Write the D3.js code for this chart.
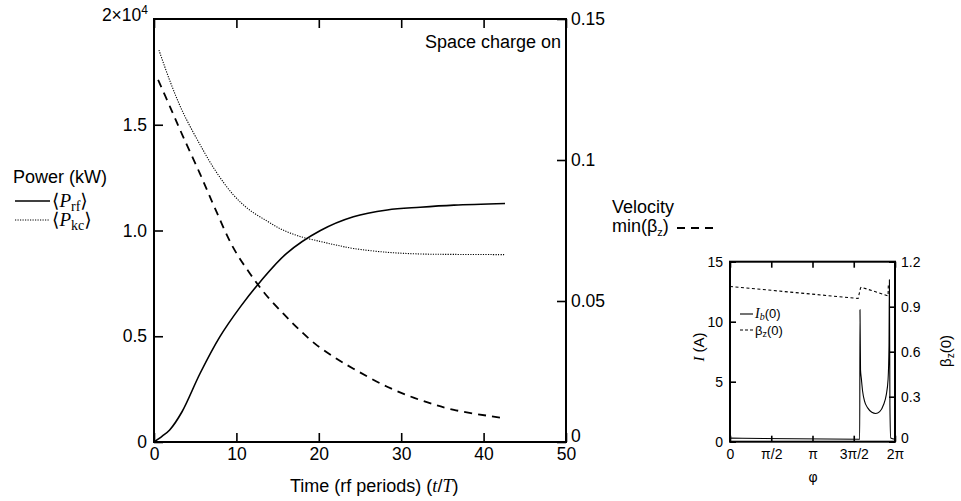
<!DOCTYPE html>
<html><head><meta charset="utf-8">
<script src="https://cdn.jsdelivr.net/npm/d3@7"></script>
<style>
body{margin:0;background:#fff;}
svg{display:block;}
text{font-family:"Liberation Sans",Arial,Helvetica,sans-serif;fill:#000;}
.serif{font-family:"Liberation Serif","DejaVu Serif",serif;}
</style>
</head><body>
<svg id="chart" width="961" height="501"></svg>
<script>
// ---------- Main chart data ----------
const timeRf = [0, 1, 1.9, 3.4, 5.6, 8, 10.5, 12.9, 16.1, 20.2, 24.2, 28.3, 32.3, 36.4, 42.6];
const pRf    = [0, 0.028, 0.057, 0.143, 0.325, 0.498, 0.64, 0.758, 0.892, 1.0, 1.065, 1.097, 1.11, 1.12, 1.128];

const timeKc = [0.6, 2, 3.5, 5.6, 7.5, 9.6, 11.5, 13.7, 15.5, 17.7, 20.2, 22, 24.2, 28.3, 32.3, 36.4, 42.6];
const pKc    = [1.853, 1.70, 1.56, 1.405, 1.28, 1.17, 1.10, 1.045, 1.005, 0.972, 0.948, 0.932, 0.915, 0.897, 0.889, 0.887, 0.886];

const timeBeta = [0.5, 2, 3.5, 5.6, 7.5, 9.6, 11.7, 13.5, 15.7, 17.5, 19.6, 22, 24.2, 28.3, 32.3, 36.4, 42.6];
const minBeta  = [0.1284, 0.1185, 0.1085, 0.0950, 0.0822, 0.0690, 0.0595, 0.0525, 0.0455, 0.0402, 0.0347, 0.0298, 0.0260, 0.0196, 0.0149, 0.0114, 0.0084];

const xTicks = [0, 10, 20, 30, 40, 50];
const leftTicks = [0, 0.5, 1.0, 1.5];
const leftTickLabels = ["0", "0.5", "1.0", "1.5"];
const rightTicks = [0, 0.05, 0.1, 0.15];
const rightTickLabels = ["0", "0.05", "0.1", "0.15"];

// ---------- Inset data ----------
const phiI = [0, 4.94, 4.95, 4.97, 5.0, 5.05, 5.12, 5.25, 5.4, 5.55, 5.7, 5.85, 5.95, 6.02, 6.055, 6.07, 6.09, 6.12, 6.283];
const currentI = [0.3, 0.2, 11.0, 6.0, 5.3, 4.2, 3.4, 2.8, 2.45, 2.35, 2.5, 3.1, 3.9, 5.2, 8.0, 13.5, 3.0, 0.3, 0.2];
const phiB = [0, 4.88, 4.97, 5.0, 5.97, 6.02, 6.03];
const betaZ = [1.035, 0.955, 1.025, 1.03, 0.975, 0.973, 1.05];
const insetXTicks = [0, Math.PI/2, Math.PI, 3*Math.PI/2, 2*Math.PI];
const insetXLabels = ["0", "π/2", "π", "3π/2", "2π"];
const insetLeftTicks = [0, 5, 10, 15];
const insetRightTicks = [0, 0.3, 0.6, 0.9, 1.2];
const insetRightLabels = ["0", "0.3", "0.6", "0.9", "1.2"];

const svg = d3.select("#chart");

// ================= MAIN CHART =================
const L = 154, R = 566, T = 19, B = 442;
const x = d3.scaleLinear().domain([0, 50]).range([L, R]);
const yL = d3.scaleLinear().domain([0, 2]).range([B, T]);
const yR = d3.scaleLinear().domain([0, 0.15]).range([B, T]);
const FS = 17.5;   // tick labels
const TS = 18;     // titles

function styleAxis(g, fs) {
  g.select(".domain").remove();
  g.selectAll(".tick line").attr("stroke", "#000").attr("stroke-width", 1.6);
  g.selectAll(".tick text").attr("font-size", fs).attr("fill", "#000")
    .attr("font-family", "Liberation Sans, Arial, sans-serif");
}

// bottom
const gB = svg.append("g").attr("transform", `translate(0,${B})`)
  .call(d3.axisBottom(x).tickValues(xTicks).tickSize(-9).tickPadding(6).tickFormat(d3.format("d")));
styleAxis(gB, FS);
// top
const gT = svg.append("g").attr("transform", `translate(0,${T})`)
  .call(d3.axisTop(x).tickValues(xTicks).tickSize(-9).tickFormat(""));
styleAxis(gT, FS);
// left
const gL = svg.append("g").attr("transform", `translate(${L},0)`)
  .call(d3.axisLeft(yL).tickValues(leftTicks).tickSize(-9).tickPadding(7)
    .tickFormat((d, i) => leftTickLabels[i]));
styleAxis(gL, FS);
// right
const gR = svg.append("g").attr("transform", `translate(${R},0)`)
  .call(d3.axisRight(yR).tickValues(rightTicks).tickSize(-9).tickPadding(5)
    .tickFormat((d, i) => rightTickLabels[i]));
styleAxis(gR, FS);
gR.selectAll(".tick text").filter(d => d === 0).attr("dy", "-0.05em");

// frame
svg.append("rect").attr("x", L).attr("y", T).attr("width", R - L).attr("height", B - T)
  .attr("fill", "none").attr("stroke", "#000").attr("stroke-width", 2);

// 2x10^4 label
const topLabel = svg.append("text").attr("x", 148).attr("y", 21).attr("text-anchor", "end")
  .attr("font-size", FS);
topLabel.append("tspan").text("2×10");
topLabel.append("tspan").attr("dy", -7).attr("font-size", 12).text("4");

// curves
const curveMain = d3.curveCatmullRom.alpha(0.5);
const lineRf = d3.line().x((d, i) => x(timeRf[i])).y(d => yL(d)).curve(curveMain);
svg.append("path").attr("d", lineRf(pRf)).attr("fill", "none").attr("stroke", "#000").attr("stroke-width", 1.6);

const lineKc = d3.line().x((d, i) => x(timeKc[i])).y(d => yL(d)).curve(curveMain);
svg.append("path").attr("d", lineKc(pKc)).attr("fill", "none").attr("stroke", "#000")
  .attr("stroke-width", 1.1).attr("stroke-dasharray", "1.2,1.3");

const lineB = d3.line().x((d, i) => x(timeBeta[i])).y(d => yR(d)).curve(curveMain);
svg.append("path").attr("d", lineB(minBeta)).attr("fill", "none").attr("stroke", "#000")
  .attr("stroke-width", 1.8).attr("stroke-dasharray", "8,6");

// annotation
svg.append("text").attr("x", 561).attr("y", 48).attr("text-anchor", "end").attr("font-size", TS).text("Space charge on");

// x axis title
const xt = svg.append("text").attr("x", 290).attr("y", 492).attr("font-size", TS);
xt.append("tspan").text("Time (rf periods) (");
xt.append("tspan").attr("class", "serif").attr("font-style", "italic").text("t");
xt.append("tspan").text("/");
xt.append("tspan").attr("class", "serif").attr("font-style", "italic").text("T");
xt.append("tspan").text(")");

// left legend
svg.append("text").attr("x", 13).attr("y", 183).attr("font-size", TS).text("Power (kW)");
svg.append("line").attr("x1", 15).attr("x2", 50).attr("y1", 201).attr("y2", 201)
  .attr("stroke", "#000").attr("stroke-width", 1.6);
svg.append("line").attr("x1", 15).attr("x2", 50).attr("y1", 220).attr("y2", 220)
  .attr("stroke", "#000").attr("stroke-width", 1.1).attr("stroke-dasharray", "1.2,1.3");
function bracketLabel(xp, yp, sub) {
  const t = svg.append("text").attr("x", xp).attr("y", yp).attr("font-size", 19).attr("class", "serif");
  t.append("tspan").text("⟨");
  t.append("tspan").attr("font-style", "italic").text("P");
  t.append("tspan").attr("dy", 4).attr("font-size", 14).text(sub);
  t.append("tspan").attr("dy", -4).text("⟩");
}
bracketLabel(52, 207, "rf");
bracketLabel(52, 226, "kc");

// velocity legend
svg.append("text").attr("x", 612).attr("y", 213).attr("font-size", TS).text("Velocity");
const mv = svg.append("text").attr("x", 612).attr("y", 232).attr("font-size", TS);
mv.append("tspan").text("min(β");
mv.append("tspan").attr("dy", 4).attr("font-size", 11).text("z");
mv.append("tspan").attr("dy", -4).text(")");
svg.append("line").attr("x1", 677).attr("x2", 716).attr("y1", 228).attr("y2", 228)
  .attr("stroke", "#000").attr("stroke-width", 1.8).attr("stroke-dasharray", "8,6");

// ================= INSET =================
const iL = 730, iR = 895, iT = 261.7, iB = 441.7;
const xi = d3.scaleLinear().domain([0, 2 * Math.PI]).range([iL, iR]);
const yi = d3.scaleLinear().domain([0, 15]).range([iB, iT]);
const yb = d3.scaleLinear().domain([0, 1.2]).range([iB, iT]);
const IFS = 14;

const giB = svg.append("g").attr("transform", `translate(0,${iB})`)
  .call(d3.axisBottom(xi).tickValues(insetXTicks).tickSize(-6).tickPadding(7)
    .tickFormat((d, i) => insetXLabels[i]));
styleAxis(giB, IFS);
const giT = svg.append("g").attr("transform", `translate(0,${iT})`)
  .call(d3.axisTop(xi).tickValues(insetXTicks).tickSize(-6).tickFormat(""));
styleAxis(giT, IFS);
const giL = svg.append("g").attr("transform", `translate(${iL},0)`)
  .call(d3.axisLeft(yi).tickValues(insetLeftTicks).tickSize(-6).tickPadding(7).tickFormat(d3.format("d")));
styleAxis(giL, IFS);
const giR = svg.append("g").attr("transform", `translate(${iR},0)`)
  .call(d3.axisRight(yb).tickValues(insetRightTicks).tickSize(-6).tickPadding(6)
    .tickFormat((d, i) => insetRightLabels[i]));
styleAxis(giR, IFS);
giR.selectAll(".tick text").filter(d => d === 0).attr("dy", "0.05em");

svg.append("rect").attr("x", iL).attr("y", iT).attr("width", iR - iL).attr("height", iB - iT)
  .attr("fill", "none").attr("stroke", "#000").attr("stroke-width", 2);

const lineI = d3.line().x((d, i) => xi(phiI[i])).y(d => yi(d)).curve(d3.curveMonotoneX);
svg.append("path").attr("d", lineI(currentI)).attr("fill", "none").attr("stroke", "#000").attr("stroke-width", 1.1);
const lineBz = d3.line().x((d, i) => xi(phiB[i])).y(d => yb(d));
svg.append("path").attr("d", lineBz(betaZ)).attr("fill", "none").attr("stroke", "#000")
  .attr("stroke-width", 1.1).attr("stroke-dasharray", "3,2.5");

// inset legend
svg.append("line").attr("x1", 740).attr("x2", 753).attr("y1", 314).attr("y2", 314)
  .attr("stroke", "#000").attr("stroke-width", 1.1);
const li = svg.append("text").attr("x", 755).attr("y", 318).attr("font-size", 13);
li.append("tspan").attr("class", "serif").attr("font-style", "italic").attr("font-size", 14).text("I");
li.append("tspan").attr("class", "serif").attr("font-style", "italic").attr("dy", 2).attr("font-size", 10).text("b");
li.append("tspan").attr("dy", -2).text("(0)");
svg.append("line").attr("x1", 740).attr("x2", 753).attr("y1", 330).attr("y2", 330)
  .attr("stroke", "#000").attr("stroke-width", 1.1).attr("stroke-dasharray", "3,2");
const lb = svg.append("text").attr("x", 755).attr("y", 335).attr("font-size", 13);
lb.append("tspan").text("β");
lb.append("tspan").attr("dy", 2).attr("font-size", 9).text("z");
lb.append("tspan").attr("dy", -2).text("(0)");

// inset axis titles
svg.append("text").attr("x", 813).attr("y", 482).attr("text-anchor", "middle").attr("font-size", IFS).text("φ");
const ya = svg.append("text").attr("transform", "translate(704,347) rotate(-90)")
  .attr("text-anchor", "middle").attr("font-size", 15);
ya.append("tspan").attr("class", "serif").attr("font-style", "italic").text("I");
ya.append("tspan").text(" (A)");
const yb2 = svg.append("text").attr("transform", "translate(951,351) rotate(-90)")
  .attr("text-anchor", "middle").attr("font-size", 15);
yb2.append("tspan").text("β");
yb2.append("tspan").attr("dy", 3).attr("font-size", 10).text("z");
yb2.append("tspan").attr("dy", -3).text("(0)");
</script>
</body></html>
